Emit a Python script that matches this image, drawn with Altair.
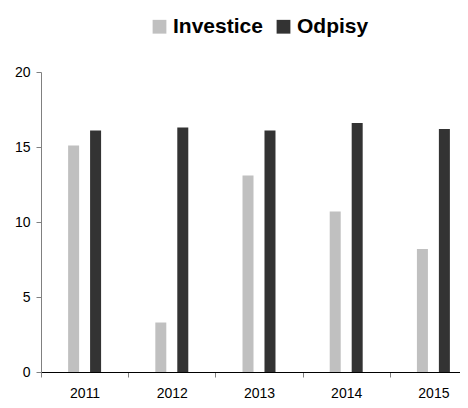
import altair as alt
import pandas as pd

years = ["2011", "2012", "2013", "2014", "2015"]
investice = [15.1, 3.3, 13.1, 10.7, 8.2]
odpisy = [16.1, 16.3, 16.1, 16.6, 16.2]
series = ["Investice", "Odpisy"]
colors = ["#c0c0c0", "#333333"]

rows = []
for i, y in enumerate(years):
    rows.append({"rok": y, "serie": series[0], "hodnota": investice[i]})
    rows.append({"rok": y, "serie": series[1], "hodnota": odpisy[i]})
df = pd.DataFrame(rows)

FONT = "Liberation Sans"

chart = alt.Chart(df).mark_bar(size=11).encode(
    x=alt.X("rok:N", sort=years, title=None,
            scale=alt.Scale(paddingInner=0, paddingOuter=0, range=[0, 436]),
            axis=alt.Axis(labelAngle=0, tickBand="extent", tickSize=5,
                          tickColor="#808080", domainColor="#000000",
                          labelFontSize=14, labelFont=FONT, labelColor="#000000",
                          labelPadding=9)),
    xOffset=alt.XOffset("serie:N", sort=series,
                        scale=alt.Scale(paddingInner=0, paddingOuter=0.984)),
    y=alt.Y("hodnota:Q", title=None,
            scale=alt.Scale(domain=[0, 20], nice=False),
            axis=alt.Axis(values=[0, 5, 10, 15, 20], grid=False, tickSize=5,
                          tickColor="#808080", domainColor="#808080",
                          labelFontSize=14, labelFont=FONT, labelColor="#000000",
                          labelPadding=6)),
    color=alt.Color("serie:N", sort=series,
                    scale=alt.Scale(domain=series, range=colors),
                    legend=alt.Legend(title=None, orient="none", direction="horizontal",
                                      legendX=108, legendY=-56,
                                      symbolType="square", symbolSize=190,
                                      symbolStrokeWidth=0, labelFontSize=21,
                                      labelFontWeight="bold", labelFont=FONT,
                                      labelColor="#000000", labelOffset=3,
                                      columnPadding=10)),
).properties(
    width=419, height=300,
    autosize=alt.AutoSizeParams(type="none"),
    padding={"left": 33, "top": 64, "right": 0, "bottom": 28},
).configure_view(stroke=None)

chart.save("out.html", embed_options={"renderer": "svg", "actions": False})
